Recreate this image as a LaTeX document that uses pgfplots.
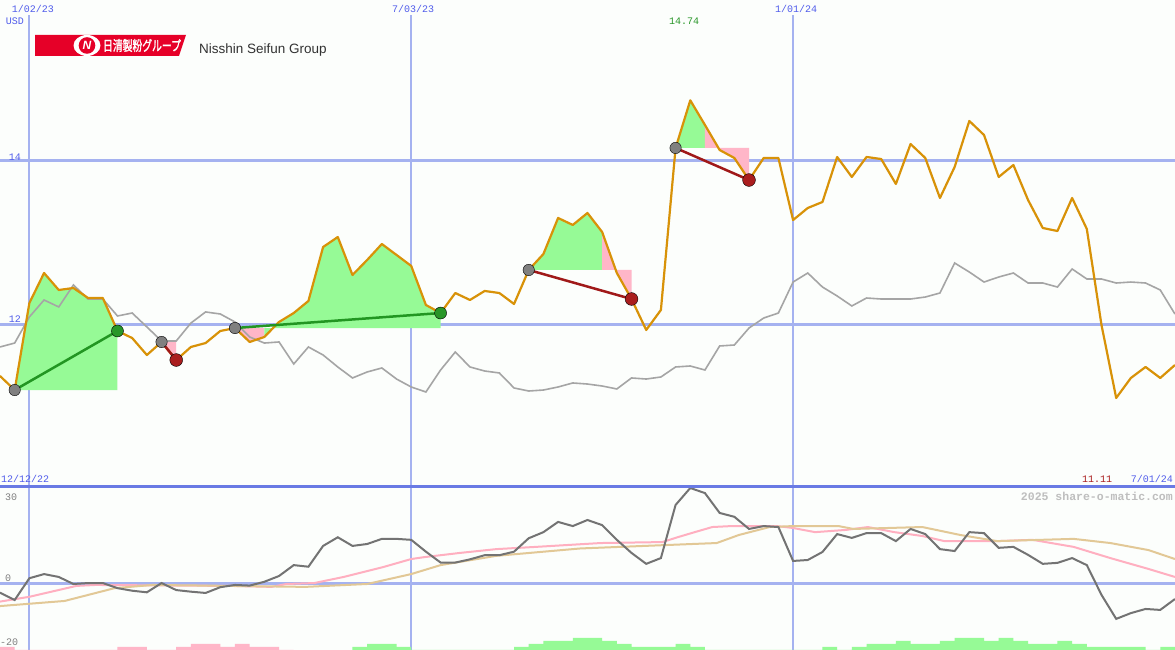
\documentclass[border=0pt]{standalone}
\usepackage{fontspec}
\setmainfont{Liberation Sans}
\newfontfamily\mono{Liberation Mono}
\newfontfamily\cjk[FakeBold=2]{Noto Sans CJK JP}
\usepackage{pgfplots}
\pgfplotsset{compat=1.18}
\usepackage{pgfplotstable}

\definecolor{bgc}{RGB}{252,254,252}
\definecolor{gridc}{RGB}{165,178,240}
\definecolor{sepc}{RGB}{105,122,228}
\definecolor{lblue}{RGB}{80,92,235}
\definecolor{orangeL}{RGB}{216,146,8}
\definecolor{grayL}{RGB}{165,165,165}
\definecolor{greenF}{RGB}{150,250,150}
\definecolor{pinkF}{RGB}{255,182,200}
\definecolor{trendG}{RGB}{34,150,34}
\definecolor{trendR}{RGB}{160,25,25}
\definecolor{circG}{RGB}{40,150,40}
\definecolor{circR}{RGB}{170,30,30}
\definecolor{circGr}{RGB}{128,128,128}
\definecolor{momc}{RGB}{115,115,115}
\definecolor{mapink}{RGB}{255,175,192}
\definecolor{matan}{RGB}{226,200,150}
\definecolor{logored}{RGB}{230,0,40}

\pgfplotstableread{
i v
0 11.378
1 11.207
2 12.268
3 12.634
4 12.427
5 12.451
6 12.329
7 12.329
8 11.927
9 11.841
10 11.634
11 11.793
12 11.573
13 11.732
14 11.780
15 11.927
16 11.963
17 11.793
18 11.854
19 12.037
20 12.146
21 12.293
22 12.951
23 13.073
24 12.610
25 12.793
26 12.988
27 12.854
28 12.720
29 12.244
30 12.146
31 12.390
32 12.305
33 12.415
34 12.390
35 12.256
36 12.671
37 12.866
38 13.305
39 13.220
40 13.366
41 13.134
42 12.634
43 12.317
44 11.939
45 12.183
46 14.159
47 14.740
48 14.439
49 14.134
50 14.037
51 13.768
52 14.037
53 14.037
54 13.280
55 13.427
56 13.500
57 14.049
58 13.805
59 14.049
60 14.024
61 13.720
62 14.207
63 14.037
64 13.549
65 13.927
66 14.488
67 14.317
68 13.805
69 13.951
70 13.524
71 13.183
72 13.146
73 13.549
74 13.171
75 12.000
76 11.110
77 11.354
78 11.488
79 11.354
80 11.512
}\orangeT

\pgfplotstableread{
i v
0 11.732
1 11.780
2 12.098
3 12.305
4 12.220
5 12.488
6 12.317
7 12.317
8 12.110
9 12.146
10 11.976
11 11.805
12 11.805
13 12.024
14 12.159
15 12.134
16 12.037
17 11.854
18 11.780
19 11.793
20 11.524
21 11.732
22 11.634
23 11.488
24 11.354
25 11.427
26 11.476
27 11.341
28 11.244
29 11.183
30 11.451
31 11.671
32 11.488
33 11.439
34 11.415
35 11.232
36 11.195
37 11.207
38 11.244
39 11.293
40 11.280
41 11.256
42 11.220
43 11.354
44 11.341
45 11.366
46 11.488
47 11.500
48 11.451
49 11.744
50 11.756
51 11.963
52 12.085
53 12.146
54 12.524
55 12.634
56 12.463
57 12.354
58 12.232
59 12.329
60 12.317
61 12.317
62 12.317
63 12.341
64 12.390
65 12.756
66 12.646
67 12.524
68 12.585
69 12.634
70 12.512
71 12.512
72 12.463
73 12.683
74 12.561
75 12.561
76 12.512
77 12.524
78 12.512
79 12.427
80 12.134
}\grayT

\pgfplotstableread{
i v
0 -2.7
1 -5.0
2 1.8
3 3.1
4 2.2
5 0.0
6 0.3
7 0.3
8 -1.3
9 -2.1
10 -2.6
11 0.3
12 -1.9
13 -2.4
14 -2.8
15 -1.0
16 -0.3
17 -0.5
18 0.7
19 2.5
20 5.9
21 5.4
22 11.9
23 14.6
24 11.9
25 12.5
26 14.1
27 14.1
28 13.8
29 10.1
30 6.7
31 6.7
32 7.7
33 9.0
34 9.0
35 10.1
36 14.3
37 16.2
38 19.4
39 18.1
40 20.0
41 18.4
42 13.8
43 9.7
44 6.3
45 8.1
46 24.7
47 30.0
48 28.4
49 22.2
50 21.0
51 17.2
52 18.1
53 17.8
54 7.2
55 7.5
56 10.0
57 15.6
58 14.4
59 15.9
60 15.9
61 13.4
62 17.2
63 15.6
64 10.9
65 10.3
66 16.2
67 15.9
68 11.3
69 11.6
70 9.1
71 6.3
72 6.6
73 8.1
74 5.9
75 -3.4
76 -10.9
77 -9.1
78 -7.8
79 -8.1
80 -4.7
}\momT

\begin{document}
\begin{tikzpicture}[x=1pt,y=1pt]
\fill[bgc] (0,0) rectangle (1175,650);
\useasboundingbox (0,0) rectangle (1175,650);

% ---------------- top panel ----------------
\begin{axis}[at={(0pt,163pt)}, anchor=south west, scale only axis,
  width=1175pt, height=472pt,
  xmin=0, xmax=80, ymin=10.0244, ymax=15.7805,
  axis line style={draw=none}, major tick length=0pt,
  xtick={2,28,54}, ytick={12,14}, xticklabels={}, yticklabels={},
  xmajorgrids, ymajorgrids,
  major x grid style={gridc, line width=2pt},
  major y grid style={gridc, line width=3pt}]
  % trend fills
  \addplot[fill=greenF, draw=none] coordinates {(1,11.207)(2,12.268)(3,12.634)(4,12.427)(5,12.451)(6,12.329)(7,12.329)(8,11.927)(8,11.207)} --cycle;
  \addplot[fill=pinkF, draw=none] coordinates {(11,11.793)(12,11.573)(12,11.793)} --cycle;
  \addplot[fill=pinkF, draw=none] coordinates {(16,11.963)(17,11.793)(18,11.854)(18,11.963)} --cycle;
  \addplot[fill=greenF, draw=none] coordinates {(18,11.963)(18,11.854)(19,12.037)(20,12.146)(21,12.293)(22,12.951)(23,13.073)(24,12.610)(25,12.793)(26,12.988)(27,12.854)(28,12.720)(29,12.244)(30,12.146)(30,11.963)} --cycle;
  \addplot[fill=greenF, draw=none] coordinates {(36,12.671)(37,12.866)(38,13.305)(39,13.220)(40,13.366)(41,13.134)(41,12.671)} --cycle;
  \addplot[fill=pinkF, draw=none] coordinates {(41,12.671)(41,13.134)(42,12.634)(43,12.317)(43,12.671)} --cycle;
  \addplot[fill=greenF, draw=none] coordinates {(46,14.159)(47,14.740)(48,14.439)(48,14.159)} --cycle;
  \addplot[fill=pinkF, draw=none] coordinates {(48,14.159)(48,14.439)(49,14.134)(50,14.037)(51,13.768)(51,14.159)} --cycle;
  % lines
  \addplot[grayL, line width=1.6pt] table[x=i, y=v] {\grayT};
  \addplot[orangeL, line width=2.2pt, line join=round] table[x=i, y=v] {\orangeT};
  % trend lines
  \addplot[trendG, line width=2.5pt] coordinates {(1,11.207)(8,11.927)};
  \addplot[trendR, line width=2.5pt] coordinates {(11,11.793)(12,11.573)};
  \addplot[trendG, line width=2.5pt] coordinates {(16,11.963)(30,12.146)};
  \addplot[trendR, line width=2.5pt] coordinates {(36,12.671)(43,12.317)};
  \addplot[trendR, line width=2.5pt] coordinates {(46,14.159)(51,13.768)};
  % circles
  \addplot[only marks, mark=*, mark size=5.7pt, mark options={fill=circGr, draw=none}] coordinates {(1,11.207)(11,11.793)(16,11.963)(36,12.671)(46,14.159)};
  \addplot[only marks, mark=*, mark size=6pt, mark options={fill=circG, draw=none}] coordinates {(8,11.927)(30,12.146)};
  \addplot[only marks, mark=*, mark size=6.4pt, mark options={fill=circR, draw=none}] coordinates {(12,11.573)(43,12.317)(51,13.768)};
\end{axis}

% ---------------- bottom panel ----------------
\begin{axis}[at={(0pt,0pt)}, anchor=south west, scale only axis,
  width=1175pt, height=163pt,
  xmin=0, xmax=80, ymin=-20.625, ymax=30.3125,
  axis line style={draw=none}, major tick length=0pt,
  xtick={2,28,54}, ytick={0}, xticklabels={}, yticklabels={},
  xmajorgrids, ymajorgrids,
  major x grid style={gridc, line width=2pt},
  major y grid style={gridc, line width=3pt}]
  \addplot[mapink, line width=2pt] coordinates {(0,-5.5)(2,-4)(5.2,-0.6)(6.5,-0.3)(15.7,-0.6)(18.5,-0.9)(19.5,0)(21.4,0.3)(23.4,2.2)(26.1,5.3)(28,7.8)(28.9,8.4)(31.3,9.7)(33.8,10.9)(36.5,11.6)(40.9,12.8)(45.1,13.1)(46.2,14.7)(47.3,16.2)(48.5,17.8)(49.8,18.1)(52.9,18.1)(54,17.5)(55.5,16.2)(57.6,16.9)(59.1,17.8)(60.9,16.2)(62.8,15)(64.3,13.4)(67.9,13.4)(70.3,13.8)(73.1,11.6)(75.6,8.1)(78.2,4.7)(80,2.2)};
  \addplot[matan, line width=2pt] coordinates {(0,-6.9)(4.4,-5.3)(7.8,-1.3)(10.4,-0.3)(15.7,-0.6)(20.8,-0.9)(25,0)(28,3.1)(30,5.9)(33.8,8.8)(39.5,11.1)(48.8,12.8)(50.3,15.3)(52.4,17.8)(54,18.1)(57.1,18.1)(58.1,17.2)(62.8,17.8)(65.4,15.3)(67.9,13.4)(73.1,14.1)(75.6,12.8)(78.2,10.6)(80,7.8)};
  \addplot[momc, line width=2pt] table[x=i, y=v] {\momT};
\end{axis}

% ---------------- bottom bars ----------------
\begin{axis}[at={(0pt,0pt)}, anchor=south west, scale only axis,
  width=1175pt, height=163pt,
  xmin=0, xmax=80, ymin=0, ymax=54.333, hide axis]
  \addplot[ybar interval, fill=pinkF, draw=none] coordinates {(0,1)(1,0)(8,1)(10,0)(12,1)(13,2)(15,1)(16,2)(17,1)(19,0)(20,0)};
  \addplot[ybar interval, fill=greenF, draw=none] coordinates {(24,1)(25,2)(27,1)(28,0)(35,1)(36,2)(37,3)(39,4)(41,3)(42,2)(43,1)(46,2)(47,1)(48,0)(56,1)(57,0)(58,1)(59,2)(61,3)(62,2)(64,3)(65,4)(67,3)(68,4)(69,3)(70,2)(72,3)(73,2)(74,1)(78,0)(79,1)(80,0)};
\end{axis}

% separator
\draw[sepc, line width=3pt] (0,163) -- (1175,163);

% ---------------- texts ----------------
\begin{scope}[every node/.style={inner sep=0pt, font=\mono\fontsize{10}{10}\selectfont}]
\node[lblue] at (33,641) {1/02/23};
\node[lblue] at (413,641) {7/03/23};
\node[lblue] at (796,641) {1/01/24};
\node[lblue] at (15,629) {USD};
\node[lblue] at (15,493) {14};
\node[lblue] at (15,331) {12};
\node[text=circG] at (684,629) {14.74};
\node[text=circR] at (1097,171) {11.11};
\node[lblue, anchor=west] at (1,171) {12/12/22};
\node[lblue, anchor=east] at (1173,171) {7/01/24};
\node[text={rgb,255:red,190;green,190;blue,190}, anchor=east, font=\mono\bfseries\fontsize{11.5}{12}\selectfont] at (1173,154) {2025 share-o-matic.com};
\node[text=gray, anchor=west] at (5,153) {30};
\node[text=gray, anchor=west] at (5,72) {0};
\node[text=gray, anchor=west] at (0,8) {-20};
\end{scope}

% ---------------- logo ----------------
\fill[logored] (35,615) -- (186,615) -- (179,594) -- (35,594) -- cycle;
\fill[white] (87,604.5) ellipse (13.5pt and 10.5pt);
\fill[logored] (87,604.5) circle (8.3pt);
\node[white, inner sep=0pt, font=\bfseries\itshape\fontsize{12}{12}\selectfont] at (87,604.5) {N};
\node[white, inner sep=0pt, xscale=0.7, font=\cjk\fontsize{14}{14}\selectfont] at (142,604.5) {日清製粉グループ};
\node[anchor=west, inner sep=0pt, text={rgb,255:red,50;green,50;blue,50}, font=\fontsize{13.5}{14}\selectfont] at (199,600) {Nisshin Seifun Group};
\end{tikzpicture}
\end{document}
